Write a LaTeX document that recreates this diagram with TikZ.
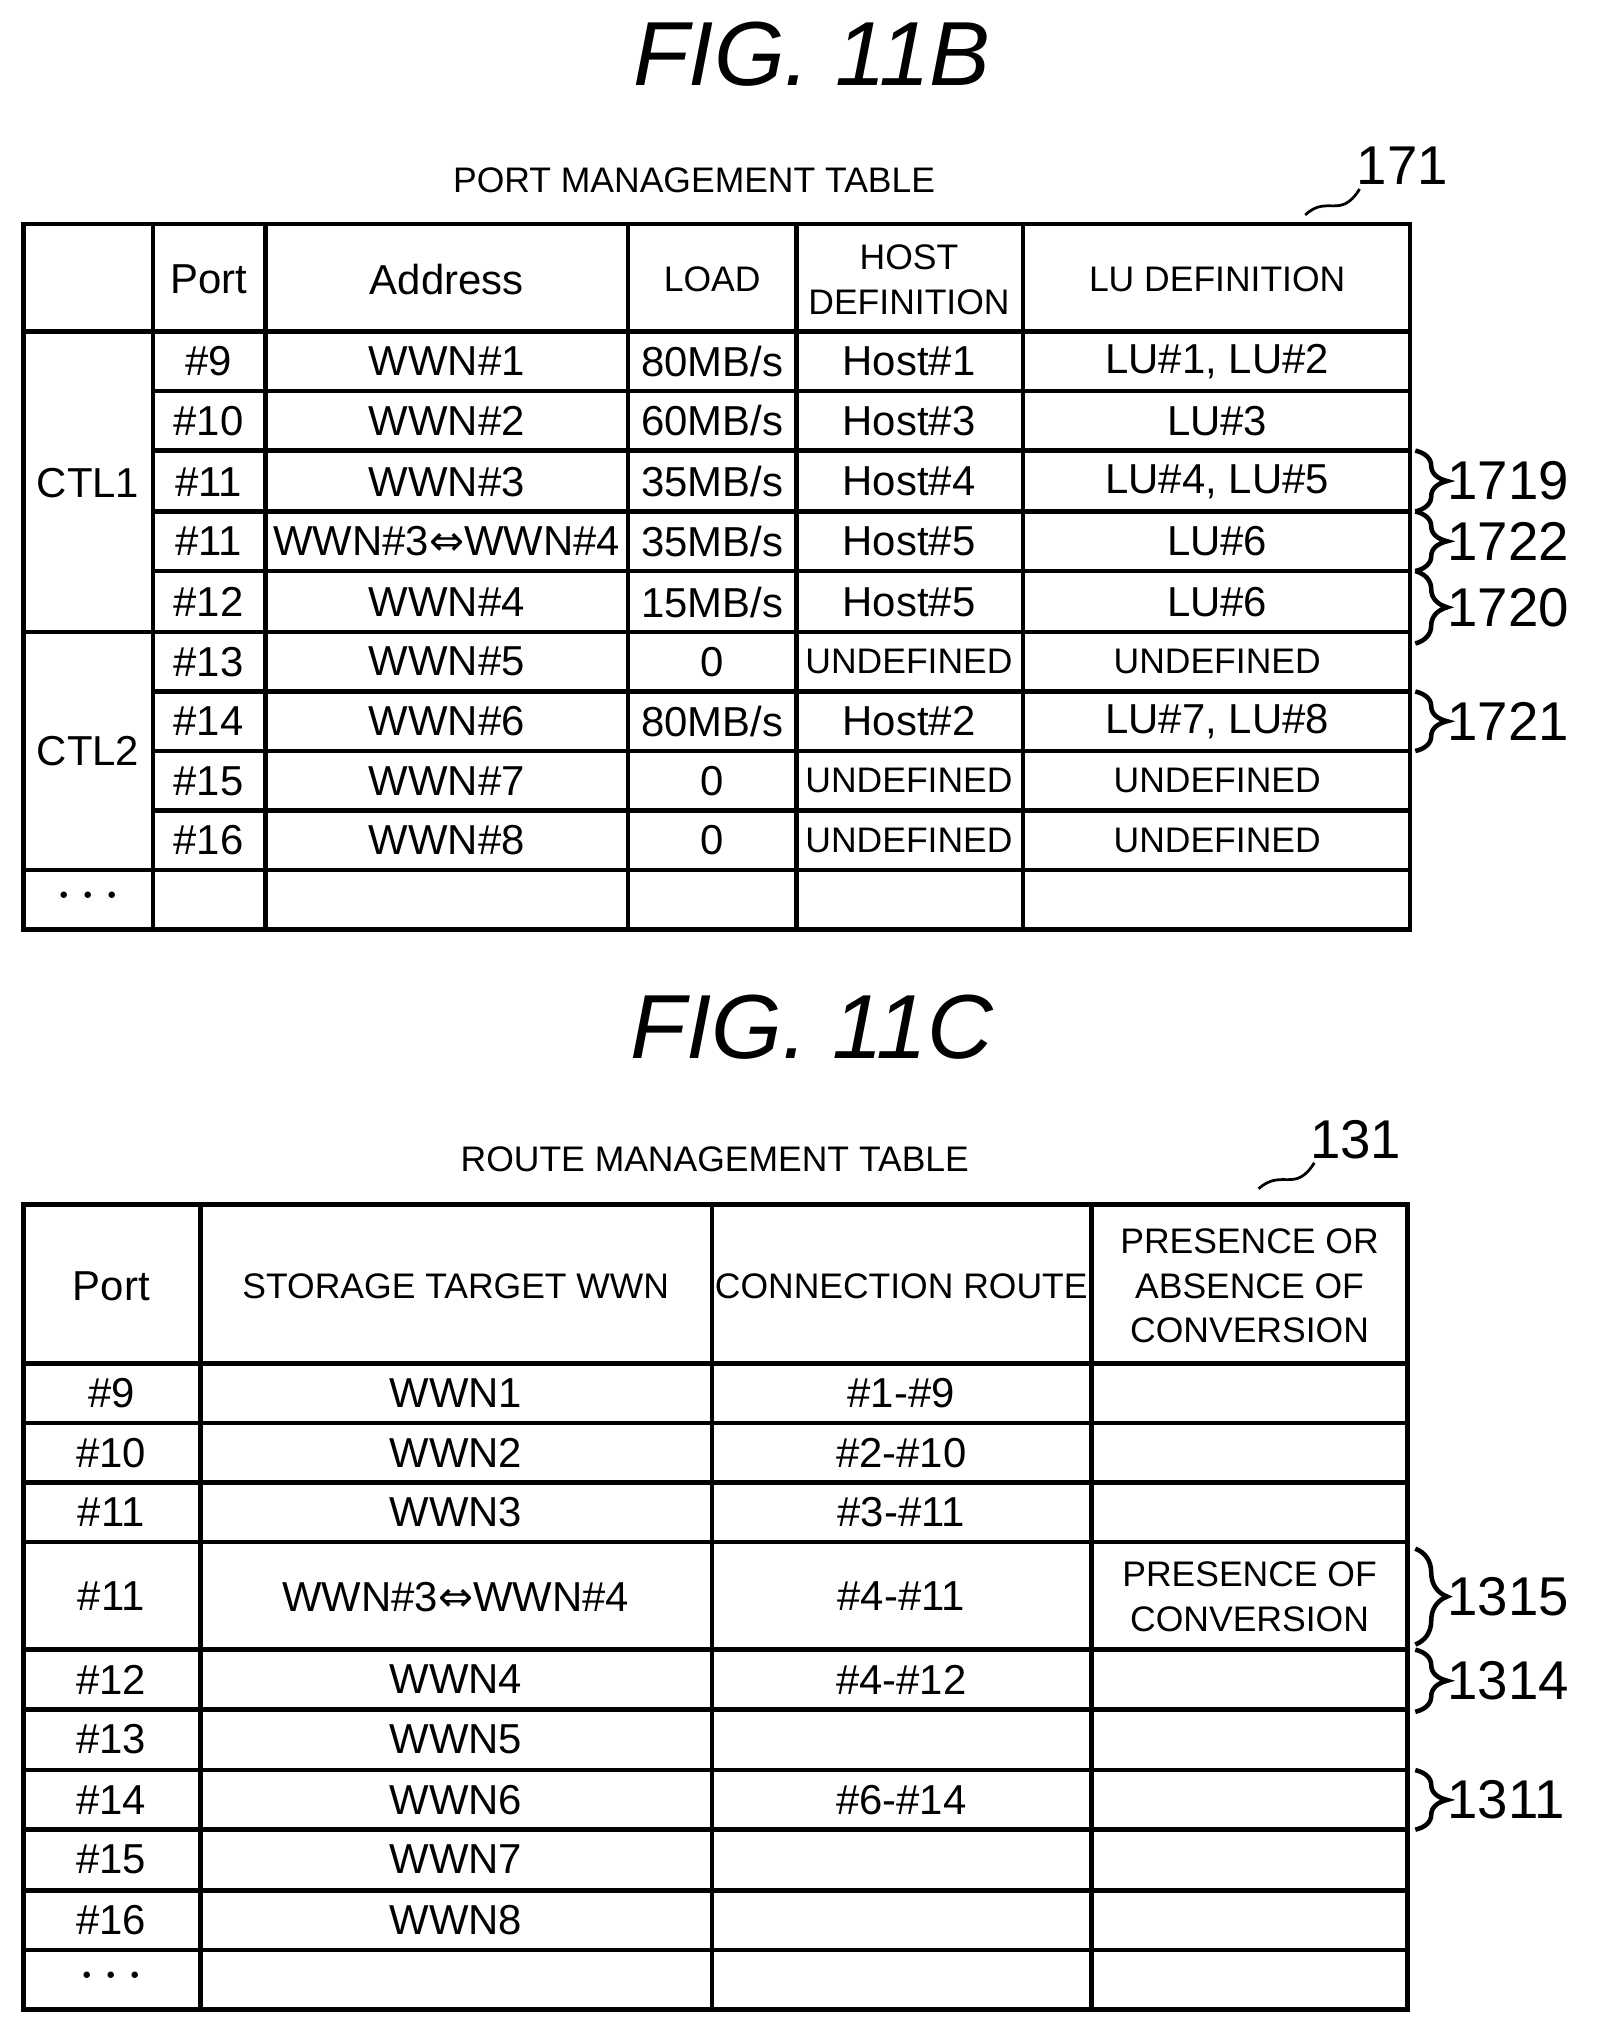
\documentclass[tikz,border=0pt]{standalone}
\usepackage{amsmath}
\usepackage{fontspec}
\setmainfont{Liberation Sans}
\usetikzlibrary{positioning,calc,decorations.pathreplacing}

\begin{document}
\begin{tikzpicture}[x=0.1mm,y=-0.1mm, line width=1pt,
  cell/.style={font=\fontsize{9.2}{10}\selectfont, inner sep=0pt},
  hdr/.style={font=\fontsize{7.8}{9.8}\selectfont, align=center, inner sep=0pt},
  fig/.style={font=\fontsize{20}{22}\selectfont\itshape},
  refno/.style={font=\fontsize{12}{13}\selectfont, anchor=west, inner sep=0pt},
  brc/.style={decorate, decoration={brace, amplitude=7pt}, line width=1pt}]
\useasboundingbox (0,0) rectangle (1250,1560);
% --- FIG. 11B
\node[fig] (figb) at (627,42) {FIG. 11B};
\node[hdr] (titleb) at (536,139) {PORT MANAGEMENT TABLE};
\node[refno] (n171) at (1046,128) {171};
\draw[line width=0.6pt] (1008,166) .. controls (1025,150) and (1035,170) .. (1050,146);
\draw (18,173) rectangle (1089,718);
\foreach \x in {118,205,485,615,790} \draw (\x,173) -- (\x,718);
\foreach \y in {256,488,672} \draw (18,\y) -- (1089,\y);
\foreach \y in {302,348,395,441,534,580,626} \draw (118,\y) -- (1089,\y);
\node[cell] at (161,216) {Port};
\node[cell] at (345,216) {Address};
\node[hdr] at (550,216) {LOAD};
\node[hdr] at (702,216) {HOST\\DEFINITION};
\node[hdr] at (940,216) {LU DEFINITION};
\foreach \y/\p/\a/\l/\h/\u in {
  279/\#9/WWN\#1/80/Host\#1/{LU\#1, LU\#2},
  325/\#10/WWN\#2/60/Host\#3/LU\#3,
  372/\#11/WWN\#3/35/Host\#4/{LU\#4, LU\#5},
  418/\#11/{WWN\#3{\fontspec{DejaVu Sans}⇔}WWN\#4}/35/Host\#5/LU\#6,
  465/\#12/WWN\#4/15/Host\#5/LU\#6,
  557/\#14/WWN\#6/80/Host\#2/{LU\#7, LU\#8}}{
  \node[cell] at (161,\y) {\p};
  \node[cell] at (345,\y) {\a};
  \node[cell] at (550,\y) {\l MB/s};
  \node[cell] at (702,\y) {\h};
  \node[cell] at (940,\y) {\u};
}
\foreach \y/\p/\a in {511/\#13/WWN\#5, 603/\#15/WWN\#7, 649/\#16/WWN\#8}{
  \node[cell] at (161,\y) {\p};
  \node[cell] at (345,\y) {\a};
  \node[cell] at (550,\y) {0};
  \node[hdr] at (702,\y) {UNDEFINED};
  \node[hdr] at (940,\y) {UNDEFINED};
}
\node[cell] (ctla) at (68,373) {CTL1};
\node[cell] (ctlb) at (68,580) {CTL2};
\node[cell] (dotsb) at (68,692) {$\boldsymbol{\cdot\cdot\cdot}$};
% braces 11B
\foreach \a/\b/\n in {348/395/1719, 395/441/1722, 441/497/1720, 534/580/1721}{
  \draw[brc] (1093,\a) -- (1093,\b);
  \node[refno] at (1116,{(\a+\b)/2}) {\n};
}
% --- FIG. 11C
\node[fig] (figc) at (627,793) {FIG. 11C};
\node[hdr] (titlec) at (552,895) {ROUTE MANAGEMENT TABLE};
\node[refno] (n131) at (1010,880) {131};
\draw[line width=0.6pt] (972,918) .. controls (990,902) and (1000,922) .. (1015,898);
\draw (18,930) rectangle (1087,1552);
\foreach \x in {155,550,843} \draw (\x,930) -- (\x,1552);
\foreach \y in {1053,1099,1145,1191,1274,1320,1367,1413,1460,1506} \draw (18,\y) -- (1087,\y);
\node[cell] at (86,993) {Port};
\node[hdr] at (352,993) {STORAGE TARGET WWN};
\node[hdr] at (696,993) {CONNECTION ROUTE};
\node[hdr] at (965,993) {PRESENCE OR\\ABSENCE OF\\CONVERSION};
\foreach \y/\p/\w/\r in {1076/\#9/WWN1/\#1{-}\#9, 1122/\#10/WWN2/\#2{-}\#10,
  1168/\#11/WWN3/\#3{-}\#11, 1297/\#12/WWN4/\#4{-}\#12, 1343/\#13/WWN5/,
  1390/\#14/WWN6/\#6{-}\#14, 1436/\#15/WWN7/, 1483/\#16/WWN8/}{
  \node[cell] at (86,\y) {\p};
  \node[cell] at (352,\y) {\w};
  \node[cell] at (696,\y) {\r};
}
\node[cell] at (86,1233) {\#11};
\node[cell] at (352,1233) {WWN\#3{\fontspec{DejaVu Sans}⇔}WWN\#4};
\node[cell] at (696,1233) {\#4{-}\#11};
\node[hdr] at (965,1233) {PRESENCE OF\\CONVERSION};
\node[cell] (dotsc) at (86,1526) {$\boldsymbol{\cdot\cdot\cdot}$};
% braces 11C
\foreach \a/\b/\n in {1196/1270/1315, 1274/1322/1314, 1367/1413/1311}{
  \draw[brc] (1093,\a) -- (1093,\b);
  \node[refno] at (1116,{(\a+\b)/2}) {\n};
}
\end{tikzpicture}
\end{document}
